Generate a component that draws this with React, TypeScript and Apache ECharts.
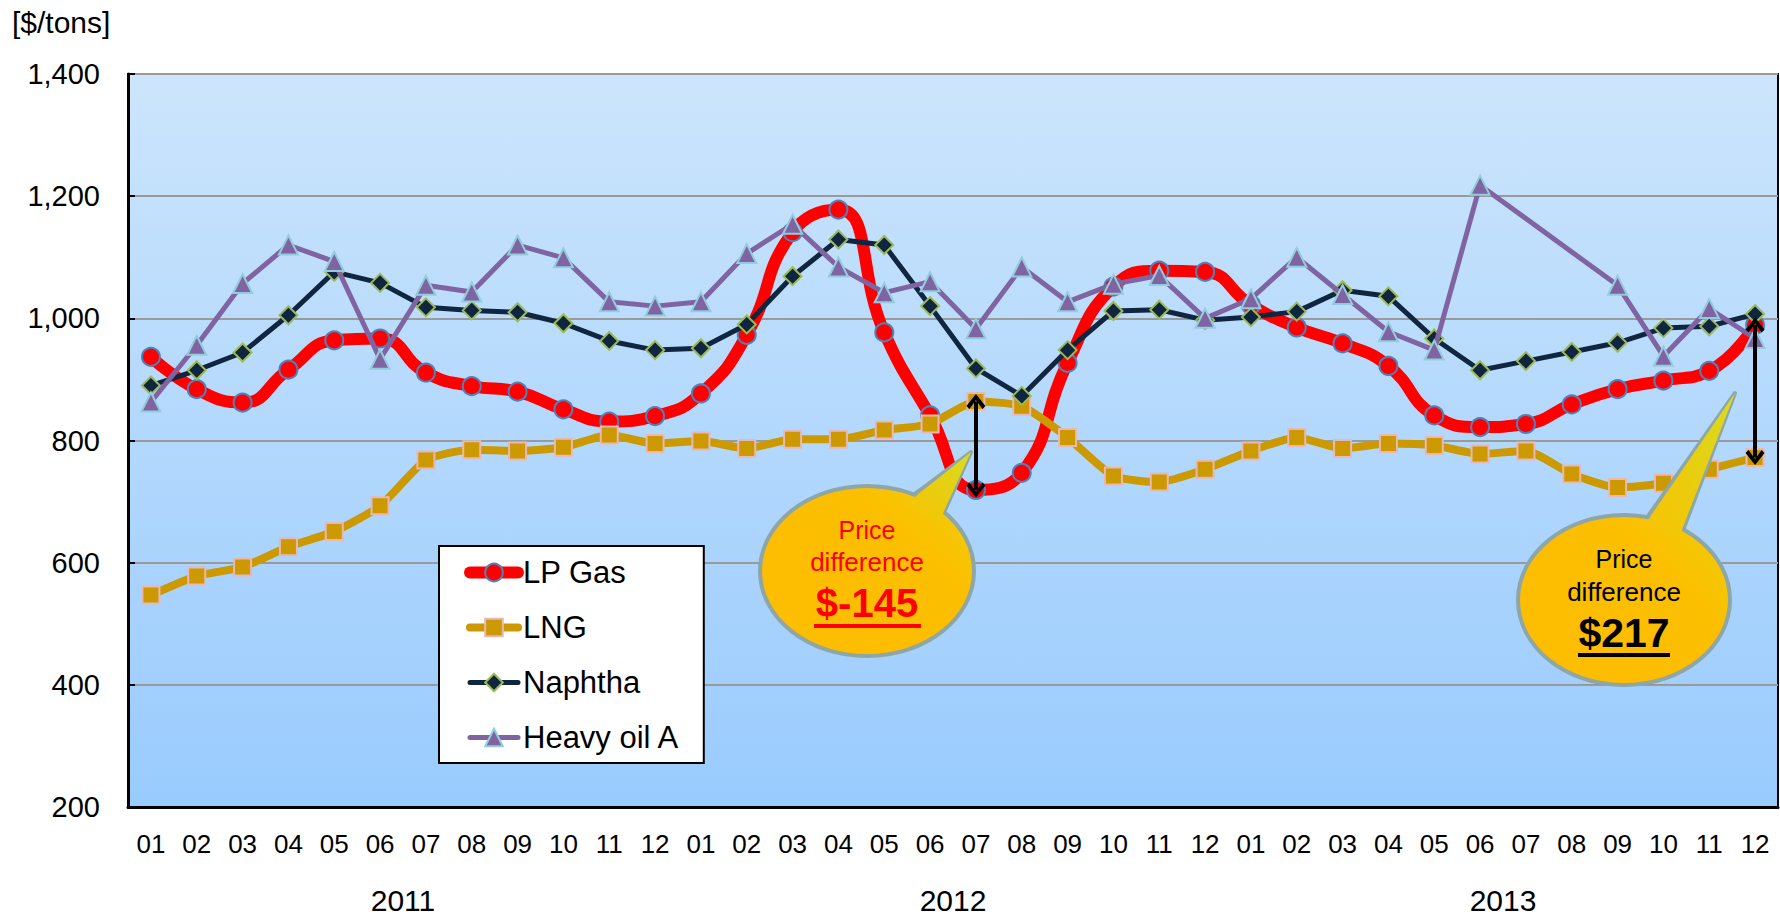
import React, { useEffect, useRef } from "react";
import * as echarts from "echarts";

const monthLabels = ["01", "02", "03", "04", "05", "06", "07", "08", "09", "10", "11", "12"];
const years = ["2011", "2012", "2013"];
const categories = [...monthLabels, ...monthLabels, ...monthLabels];

const lpGas = [
  937, 884, 862, 916, 964, 967, 911, 889, 880, 851, 831, 840,
  877, 973, 1141, 1178, 977, 841, 719, 747, 927, 1052, 1078, 1076,
  1022, 985, 959, 922, 841, 822, 827, 859, 884, 898, 914, 989,
];
const lng = [
  547, 578, 593, 626, 651, 693, 768, 785, 783, 789, 809, 795,
  799, 787, 802, 802, 817, 827, 864, 856, 805, 742, 732, 753,
  783, 805, 787, 795, 792, 778, 783, 745, 723, 730, 753, 772,
];
const naphtha = [
  890, 915, 944, 1005, 1076, 1058, 1018, 1013, 1010, 992, 963, 948,
  951, 990, 1069, 1129, 1120, 1020, 918, 873, 948, 1012, 1014, 997,
  1002, 1011, 1046, 1036, 967, 915, 930, 945, 960, 984, 987, 1007,
];
const heavyOilA = [
  863, 956, 1057, 1120, 1093, 933, 1054, 1043, 1120, 1099, 1027, 1020,
  1027, 1106, 1154, 1084, 1042, 1060, 983, 1084, 1027, 1056, 1070, 1000,
  1032, 1100, 1039, 978, 948, 1218, null, null, 1054, 938, 1016, 967,
];
const seriesNames = ["LP Gas", "LNG", "Naphtha", "Heavy oil A"];
const yTicks = { min: 200, max: 1400, interval: 200 };
const diffIndexA = 18;
const diffIndexB = 35;
const diffTextA = "$-145";
const diffTextB = "$217";
const unitLabel = "[$/tons]";

const FONT = '"Liberation Sans", Arial, Helvetica, sans-serif';

function callout(
  cx: number, cy: number, rx: number, ry: number,
  tail: number[][], innerTail: number[][],
  lines: string[], big: string, color: string,
  textY: number[], bigY: number, bigSize: number, ul: number[]
) {
  const tailFill = new echarts.graphic.LinearGradient(
    tail[2][0] > tail[0][0] ? 1 : 0, 0, tail[2][0] > tail[0][0] ? 0 : 1, 1,
    [
      { offset: 0, color: "#d8dc22" },
      { offset: 0.6, color: "#eccb0c" },
      { offset: 1, color: "#f8c302" },
    ]
  );
  const ellFill = new echarts.graphic.LinearGradient(1, 0, 0.3, 0.6, [
    { offset: 0, color: "#efcd08" },
    { offset: 0.5, color: "#fcbf00" },
    { offset: 1, color: "#fdbd00" },
  ]);
  const stroke = "#8ea6a6";
  return [
    { type: "polygon", z: 100, shape: { points: tail }, style: { fill: tailFill, stroke, lineWidth: 4, lineJoin: "round" } },
    { type: "ellipse", z: 101, shape: { cx, cy, rx, ry }, style: { fill: ellFill, stroke, lineWidth: 4 } },
    { type: "polygon", z: 102, shape: { points: innerTail }, style: { fill: tailFill } },
    {
      type: "text", z: 103, x: cx, y: textY[0],
      style: { text: lines[0], fill: color, fontSize: 25, fontFamily: FONT, align: "center", verticalAlign: "middle" },
    },
    {
      type: "text", z: 103, x: cx, y: textY[1],
      style: { text: lines[1], fill: color, fontSize: 26, fontFamily: FONT, align: "center", verticalAlign: "middle" },
    },
    {
      type: "text", z: 103, x: cx, y: bigY,
      style: { text: big, fill: color, fontSize: bigSize, fontWeight: "bold", fontFamily: FONT, align: "center", verticalAlign: "middle" },
    },
    { type: "rect", z: 103, shape: { x: ul[0], y: ul[1], width: ul[2], height: 4 }, style: { fill: color } },
  ];
}

export default function App() {
  const ref = useRef<HTMLDivElement>(null);
  useEffect(() => {
    if (!ref.current) return;
    const chart = echarts.init(ref.current, undefined, { renderer: "svg" });
    const chevron = "path://M8,0 L16,10 L13.5,12.5 L8,5 L2.5,12.5 L0,10 Z";
    const legendWidths = [12, 8, 5, 5];
    const option: any = {
      animation: false,
      backgroundColor: "#ffffff",
      textStyle: { fontFamily: FONT },
      grid: {
        left: 128,
        right: 2,
        top: 74,
        bottom: 108,
        show: true,
        borderColor: "#000",
        borderWidth: 2,
        backgroundColor: new echarts.graphic.LinearGradient(0, 0, 0, 1, [
          { offset: 0, color: "#cce5fc" },
          { offset: 1, color: "#99cbfe" },
        ]),
      },
      legend: {
        orient: "vertical",
        left: 439,
        top: 546,
        data: seriesNames.map((n, i) => ({
          name: n,
          lineStyle: { width: legendWidths[i], cap: "round" },
        })),
        backgroundColor: "#fff",
        borderColor: "#000",
        borderWidth: 2,
        padding: [11, 24, 10, 25],
        itemWidth: 48,
        itemHeight: 22,
        itemGap: 24,
        textStyle: { fontSize: 31, color: "#000", fontFamily: FONT },
      },
      xAxis: [
        {
          type: "category",
          data: categories,
          boundaryGap: true,
          axisLine: { lineStyle: { color: "#000", width: 3 } },
          axisTick: { inside: true, length: 7, lineStyle: { color: "#000", width: 2 } },
          axisLabel: { color: "#000", fontSize: 26, fontFamily: FONT, margin: 24, interval: 0 },
          splitLine: { show: false },
        },
        {
          type: "category",
          data: years,
          position: "bottom",
          boundaryGap: true,
          axisLine: { show: false },
          axisTick: { show: false },
          axisLabel: { color: "#000", fontSize: 30, fontFamily: FONT, margin: 78 },
          splitLine: { show: false },
        },
      ],
      yAxis: {
        type: "value",
        min: yTicks.min,
        max: yTicks.max,
        interval: yTicks.interval,
        axisLine: { show: true, lineStyle: { color: "#000", width: 3 } },
        axisTick: { show: true, inside: true, length: 7, lineStyle: { color: "#000", width: 2 } },
        axisLabel: {
          color: "#000",
          fontSize: 29,
          fontFamily: FONT,
          margin: 28,
          formatter: (v: number) => v.toLocaleString("en-US"),
        },
        splitLine: { lineStyle: { color: "#9a9a9a", width: 2 } },
      },
      series: [
        {
          name: seriesNames[0],
          type: "line",
          data: lpGas,
          smooth: 0.5,
          symbol: "circle",
          symbolSize: 18,
          lineStyle: { color: "#ff0000", width: 12, cap: "round" },
          itemStyle: { color: "#ff0000", borderColor: "#4f81bd", borderWidth: 2 },
          z: 2,
        },
        {
          name: seriesNames[1],
          type: "line",
          data: lng,
          smooth: 0.2,
          symbol: "rect",
          symbolSize: 17,
          lineStyle: { color: "#cc9900", width: 8, cap: "round" },
          itemStyle: { color: "#cc9900", borderColor: "#e6b9b8", borderWidth: 2 },
          z: 3,
        },
        {
          name: seriesNames[2],
          type: "line",
          data: naphtha,
          symbol: "diamond",
          symbolSize: 18,
          lineStyle: { color: "#10253f", width: 5 },
          itemStyle: { color: "#10253f", borderColor: "#9bbb59", borderWidth: 2 },
          z: 4,
        },
        {
          name: seriesNames[3],
          type: "line",
          data: heavyOilA,
          connectNulls: true,
          symbol: "triangle",
          symbolSize: 19,
          lineStyle: { color: "#8064a2", width: 5 },
          itemStyle: { color: "#8064a2", borderColor: "#93cddd", borderWidth: 2 },
          z: 5,
          markLine: {
            silent: true,
            symbol: [chevron, chevron],
            symbolSize: [19, 15],
            label: { show: false },
            lineStyle: { color: "#000", width: 4, type: "solid" },
            z: 10,
            data: [
              [{ coord: [diffIndexA, lng[diffIndexA]] }, { coord: [diffIndexA, lpGas[diffIndexA]] }],
              [{ coord: [diffIndexB, lpGas[diffIndexB]] }, { coord: [diffIndexB, lng[diffIndexB]] }],
            ],
          },
        },
      ],
      graphic: [
        {
          type: "text",
          x: 12,
          y: 22,
          style: { text: unitLabel, fill: "#000", fontSize: 30, fontFamily: FONT, align: "left", verticalAlign: "middle" },
        },
        ...callout(
          867, 571, 107, 85,
          [[908, 499], [942, 517], [971, 452]],
          [[905, 505], [938, 524], [971, 452]],
          ["Price", "difference"], diffTextA, "#ff0000",
          [530, 562], 603, 40, [814, 624, 107]
        ),
        ...callout(
          1624, 600, 106, 85,
          [[1646, 519], [1682, 533], [1735, 393]],
          [[1644, 526], [1678, 540], [1735, 393]],
          ["Price", "difference"], diffTextB, "#000000",
          [559, 592], 633, 41, [1578, 653, 92]
        ),
      ],
    };
    chart.setOption(option);
    return () => chart.dispose();
  }, []);
  return (
    <div
      ref={ref}
      style={{ position: "absolute", left: 0, top: 0, width: 1780, height: 915 }}
    />
  );
}
